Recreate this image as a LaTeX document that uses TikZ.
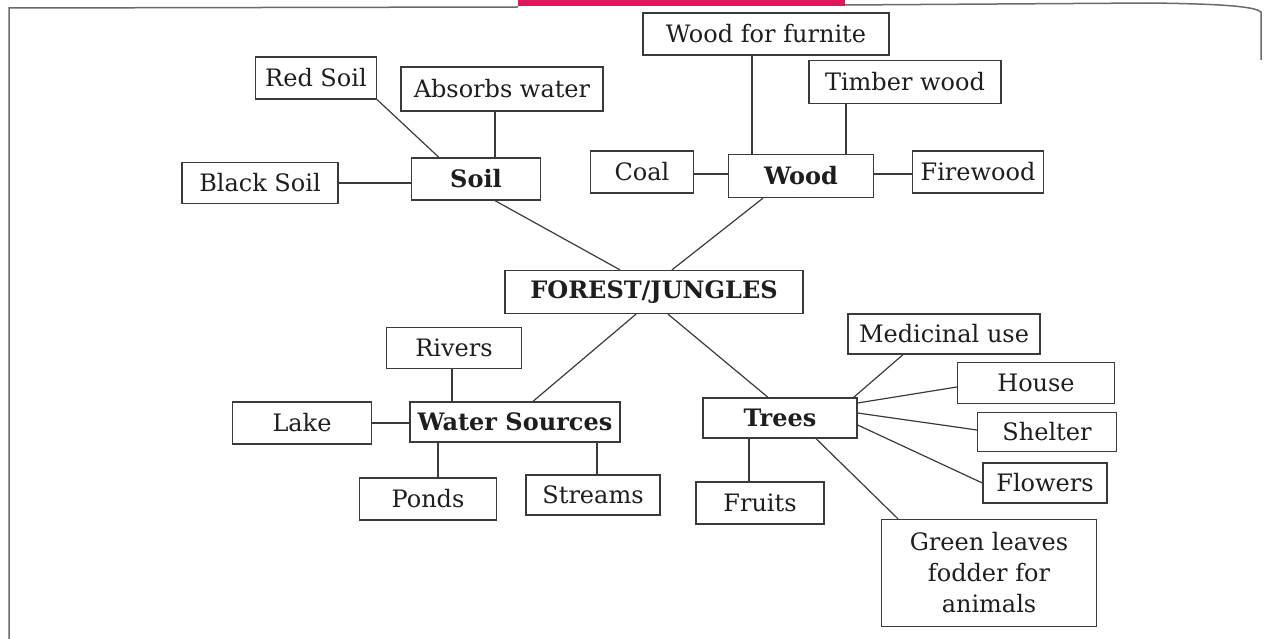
\documentclass[tikz,border=0pt]{standalone}
\usepackage{fontspec}
\setmainfont{DejaVu Serif}
\definecolor{inkc}{HTML}{1E1E1E}
\definecolor{linec}{HTML}{3A3A3A}
\definecolor{pinkc}{HTML}{E0185A}
\definecolor{framec}{HTML}{6A6A6A}
\begin{document}
\begin{tikzpicture}[x=1pt,y=-1pt,
  bx/.style={draw=linec,line width=1.3pt,text=inkc,inner sep=0pt,font=\fontsize{24}{28}\selectfont,align=center},
  bb/.style={bx,font=\fontsize{24}{28}\selectfont\bfseries},
  cn/.style={draw=linec,line width=1.2pt}]
\useasboundingbox (0,0) rectangle (1269,639);
% page frame and heading bar
\fill[pinkc] (518,0) rectangle (845,6.5);
\draw[framec,line width=1.5pt] (9,640) -- (9,8) -- (518,7) (845,5) -- (1150,3) .. controls (1230,4) and (1255,7) .. (1261,12) -- (1261,60);
% nodes
\node[bx,minimum width=246pt,minimum height=42pt] (furn) at (766,34) {Wood for furnite};
\node[bx,minimum width=121pt,minimum height=42pt] (redsoil) at (316,78) {Red Soil};
\node[bx,minimum width=202pt,minimum height=44pt] (absorbs) at (502,89) {Absorbs water};
\node[bx,minimum width=192pt,minimum height=43pt] (timber) at (905,82) {Timber wood};
\node[bx,minimum width=156pt,minimum height=41pt] (blacksoil) at (260,183) {Black Soil};
\node[bb,minimum width=129pt,minimum height=42pt] (soil) at (476,179) {Soil};
\node[bx,minimum width=103pt,minimum height=42pt] (coal) at (642,172) {Coal};
\node[bb,minimum width=145pt,minimum height=43pt] (wood) at (801,176) {Wood};
\node[bx,minimum width=131pt,minimum height=42pt] (firewood) at (978,172) {Firewood};
\node[bb,minimum width=298pt,minimum height=43pt] (forest) at (654,292) {FOREST/JUNGLES};
\node[bx,minimum width=135pt,minimum height=41pt] (rivers) at (454,348) {Rivers};
\node[bx,minimum width=192pt,minimum height=40pt] (medicinal) at (944,334) {Medicinal use};
\node[bx,minimum width=157pt,minimum height=41pt] (house) at (1036,383) {House};
\node[bx,minimum width=139pt,minimum height=42pt] (lake) at (302,423) {Lake};
\node[bb,minimum width=210pt,minimum height=40pt] (water) at (515,422) {Water Sources};
\node[bb,minimum width=154pt,minimum height=40pt] (trees) at (780,418) {Trees};
\node[bx,minimum width=139pt,minimum height=39pt] (shelter) at (1047,432) {Shelter};
\node[bx,minimum width=124pt,minimum height=40pt] (flowers) at (1045,483) {Flowers};
\node[bx,minimum width=137pt,minimum height=42pt] (ponds) at (428,499) {Ponds};
\node[bx,minimum width=134pt,minimum height=40pt] (streams) at (593,495) {Streams};
\node[bx,minimum width=128pt,minimum height=42pt] (fruits) at (760,503) {Fruits};
\node[bx,minimum width=215pt,minimum height=107pt,font=\fontsize{24}{31}\selectfont] (green) at (989,573) {Green leaves\\fodder for\\animals};
% connectors: soil
\draw[cn] (redsoil.south east) -- ([xshift=28pt]soil.north west);
\draw[cn] ([xshift=-7pt]absorbs.south) -- ([xshift=-7pt]absorbs.south |- soil.north);
\draw[cn] (blacksoil.east) -- (blacksoil.east -| soil.west);
\draw[cn] ([xshift=19pt]soil.south) -- ([xshift=-34pt]forest.north);
% wood
\draw[cn] ([xshift=-14pt]furn.south) -- ([xshift=-14pt]furn.south |- wood.north);
\draw[cn] ([xshift=-59pt]timber.south) -- ([xshift=-59pt]timber.south |- wood.north);
\draw[cn] ([yshift=-2pt]coal.east) -- ([yshift=-2pt]coal.east -| wood.west);
\draw[cn] ([yshift=-2pt]firewood.west) -- ([yshift=-2pt]firewood.west -| wood.east);
\draw[cn] ([xshift=-38pt]wood.south) -- ([xshift=18pt]forest.north);
% forest to lower
\draw[cn] ([xshift=-18pt]forest.south) -- ([xshift=18pt]water.north);
\draw[cn] ([xshift=14pt]forest.south) -- ([xshift=-12pt]trees.north);
% water
\draw[cn] ([xshift=-2pt]rivers.south) -- ([xshift=-2pt]rivers.south |- water.north);
\draw[cn] (lake.east) -- (lake.east -| water.west);
\draw[cn] ([xshift=-77pt]water.south) -- ([xshift=-77pt]water.south |- ponds.north);
\draw[cn] ([xshift=82pt]water.south) -- ([xshift=82pt]water.south |- streams.north);
% trees
\draw[cn] ([xshift=-41pt]medicinal.south) -- ([xshift=-4pt]trees.north east);
\draw[cn] ([yshift=15pt]trees.east) -- ([yshift=-4pt]house.west);
\draw[cn] ([yshift=5pt]trees.east) -- ([yshift=2pt]shelter.west);
\draw[cn] ([yshift=-7pt]trees.east) -- (flowers.west);
\draw[cn] ([xshift=36pt]trees.south) -- ([xshift=-91pt]green.north);
\draw[cn] ([xshift=-31pt]trees.south) -- ([xshift=-31pt]trees.south |- fruits.north);
\end{tikzpicture}
\end{document}
